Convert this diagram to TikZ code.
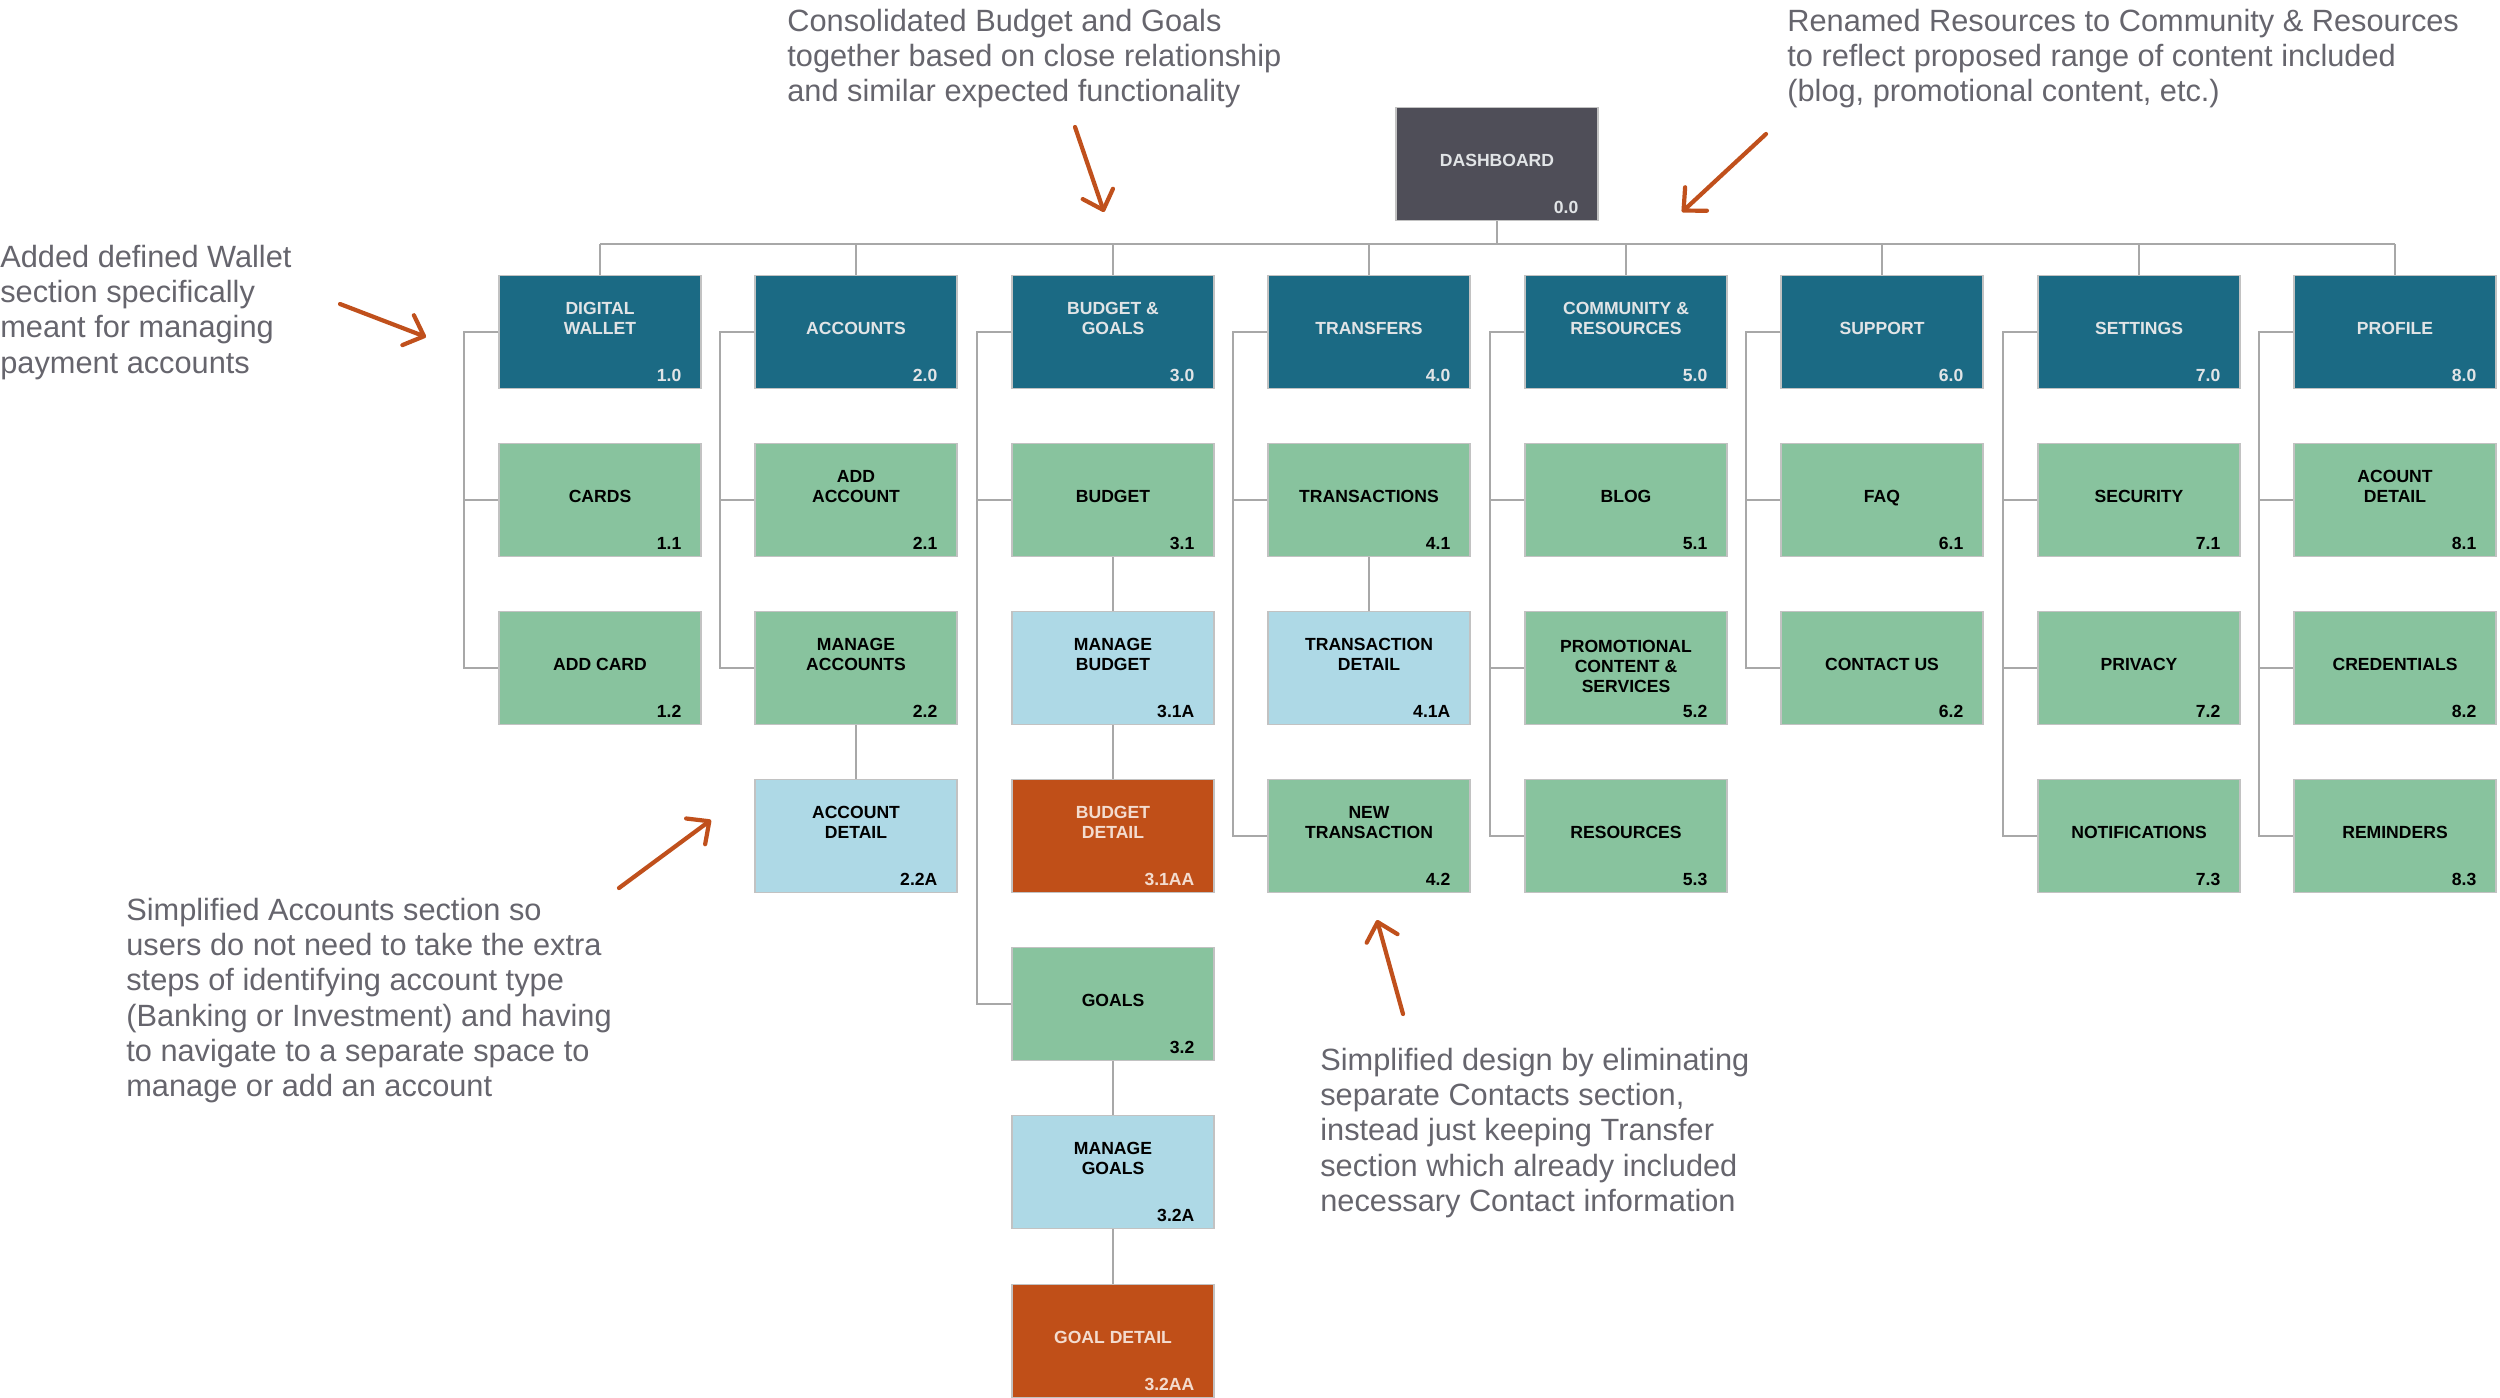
\documentclass[tikz,border=0pt]{standalone}
\usepackage{fontspec}
\setmainfont{Liberation Sans}
\usepackage{xcolor}
\usetikzlibrary{arrows.meta, calc}

\definecolor{sectionteal}{HTML}{1B6A84}
\definecolor{pagegreen}{HTML}{88C39E}
\definecolor{subblue}{HTML}{AED9E6}
\definecolor{detailorange}{HTML}{C04F18}
\definecolor{homegray}{HTML}{4F4E58}
\definecolor{lighttext}{HTML}{E1E4E6}
\definecolor{peachtext}{HTML}{F3DCCF}
\definecolor{linkgray}{HTML}{A8A8A8}
\definecolor{notegray}{HTML}{66656D}
\definecolor{noteorange}{HTML}{C0501C}

\begin{document}
\begin{tikzpicture}[x=0.02cm, y=-0.02cm,
  every node/.style={font=\bfseries\fontsize{10}{11.4}\selectfont},
  card/.style={draw=black!24, line width=0.8pt, align=center, inner sep=0pt, minimum width=4.04cm, minimum height=2.26cm, text height=0.6cm, text depth=0.5cm},
  home/.style={card, fill=homegray, text=lighttext},
  section/.style={card, fill=sectionteal, text=lighttext},
  page/.style={card, fill=pagegreen, text=black},
  sub/.style={card, fill=subblue, text=black},
  detail/.style={card, fill=detailorange, text=peachtext},
  numbase/.style={anchor=base east, xshift=-0.4cm, yshift=0.16cm, inner sep=0pt},
  dnum/.style={label={[numbase, text=black]south east:#1}},
  lnum/.style={label={[numbase, text=lighttext]south east:#1}},
  pnum/.style={label={[numbase, text=peachtext]south east:#1}},
  link/.style={draw=linkgray, line width=1pt},
  note/.style={anchor=north west, align=left, inner sep=0pt, text=notegray, font=\fontsize{17.5}{20}\selectfont},
  pointer/.style={draw=noteorange, line width=2.4pt, line cap=round, -{Straight Barb[length=3.4mm, width=6.4mm, round]}}]

  \useasboundingbox (0,0) rectangle (2500,1398);

  % top of the tree
  \node[home, lnum=0.0] (b00) at (1497,164) {DASHBOARD};
  \coordinate (bus) at (0,244);

  % sections
  \node[section, lnum=1.0] (b10) at (600,332) {DIGITAL\\WALLET};
  \node[section, lnum=2.0] (b20) at (856,332) {ACCOUNTS};
  \node[section, lnum=3.0] (b30) at (1113,332) {BUDGET \&\\GOALS};
  \node[section, lnum=4.0] (b40) at (1369,332) {TRANSFERS};
  \node[section, lnum=5.0] (b50) at (1626,332) {COMMUNITY \&\\RESOURCES};
  \node[section, lnum=6.0] (b60) at (1882,332) {SUPPORT};
  \node[section, lnum=7.0] (b70) at (2139,332) {SETTINGS};
  \node[section, lnum=8.0] (b80) at (2395,332) {PROFILE};

  % pages
  \node[page, dnum=1.1] (b11) at (600,500) {CARDS};
  \node[page, dnum=1.2] (b12) at (600,668) {ADD CARD};
  \node[page, dnum=2.1] (b21) at (856,500) {ADD\\ACCOUNT};
  \node[page, dnum=2.2] (b22) at (856,668) {MANAGE\\ACCOUNTS};
  \node[sub, dnum=2.2A] (b22a) at (856,836) {ACCOUNT\\DETAIL};
  \node[page, dnum=3.1] (b31) at (1113,500) {BUDGET};
  \node[sub, dnum=3.1A] (b31a) at (1113,668) {MANAGE\\BUDGET};
  \node[detail, pnum=3.1AA] (b31aa) at (1113,836) {BUDGET\\DETAIL};
  \node[page, dnum=3.2] (b32) at (1113,1004) {GOALS};
  \node[sub, dnum=3.2A] (b32a) at (1113,1172) {MANAGE\\GOALS};
  \node[detail, pnum=3.2AA] (b32aa) at (1113,1341) {GOAL DETAIL};
  \node[page, dnum=4.1] (b41) at (1369,500) {TRANSACTIONS};
  \node[sub, dnum=4.1A] (b41a) at (1369,668) {TRANSACTION\\DETAIL};
  \node[page, dnum=4.2] (b42) at (1369,836) {NEW\\TRANSACTION};
  \node[page, dnum=5.1] (b51) at (1626,500) {BLOG};
  \node[page, dnum=5.2, text height=1.5cm, text depth=0.52cm] (b52) at (1626,668) {PROMOTIONAL\\CONTENT \&\\SERVICES};
  \node[page, dnum=5.3] (b53) at (1626,836) {RESOURCES};
  \node[page, dnum=6.1] (b61) at (1882,500) {FAQ};
  \node[page, dnum=6.2] (b62) at (1882,668) {CONTACT US};
  \node[page, dnum=7.1] (b71) at (2139,500) {SECURITY};
  \node[page, dnum=7.2] (b72) at (2139,668) {PRIVACY};
  \node[page, dnum=7.3] (b73) at (2139,836) {NOTIFICATIONS};
  \node[page, dnum=8.1] (b81) at (2395,500) {ACOUNT\\DETAIL};
  \node[page, dnum=8.2] (b82) at (2395,668) {CREDENTIALS};
  \node[page, dnum=8.3] (b83) at (2395,836) {REMINDERS};

  % connectors
  \draw[link] (b00.south) -- (b00.south |- bus);
  \draw[link] (b10.north |- bus) -- (b80.north |- bus);
  \foreach \s in {10,20,...,80}
    \draw[link] (b\s.north) -- (b\s.north |- bus);
  \foreach \s/\p in {10/11, 10/12, 20/21, 20/22, 30/31, 30/32, 40/41, 40/42,
                     50/51, 50/52, 50/53, 60/61, 60/62, 70/71, 70/72, 70/73, 80/81, 80/82, 80/83}
    \draw[link] (b\s.west) -- ++(-34,0) |- (b\p.west);
  \draw[link] (b22) -- (b22a);
  \draw[link] (b31) -- (b31a);
  \draw[link] (b31a) -- (b31aa);
  \draw[link] (b32) -- (b32a);
  \draw[link] (b32a) -- (b32aa);
  \draw[link] (b41) -- (b41a);

  % notes
  \node[note] (walletnote) at (0,245) {Added defined Wallet\\section specifically\\meant for managing\\payment accounts};
  \node[note] (budgetnote) at (787,9) {Consolidated Budget and Goals\\together based on close relationship\\and similar expected functionality};
  \node[note] (communitynote) at (1787,9) {Renamed Resources to Community \& Resources\\to reflect proposed range of content included\\(blog, promotional content, etc.)};
  \node[note] (accountsnote) at (126,898) {Simplified Accounts section so\\users do not need to take the extra\\steps of identifying account type\\(Banking or Investment) and having\\to navigate to a separate space to\\manage or add an account};
  \node[note] (transfernote) at (1320,1048) {Simplified design by eliminating\\separate Contacts section,\\instead just keeping Transfer\\section which already included\\necessary Contact information};

  \coordinate (walletfrom) at (340,304);  \coordinate (walletto) at (426,337);
  \coordinate (budgetfrom) at (1075,127); \coordinate (budgetto) at (1104,212);
  \coordinate (communityfrom) at (1766,134); \coordinate (communityto) at (1682,212);
  \coordinate (accountsfrom) at (619,888); \coordinate (accountsto) at (711,820);
  \coordinate (transferfrom) at (1403,1014); \coordinate (transferto) at (1377,920);
  \draw[pointer] (walletfrom) -- (walletto);
  \draw[pointer] (budgetfrom) -- (budgetto);
  \draw[pointer] (communityfrom) -- (communityto);
  \draw[pointer] (accountsfrom) -- (accountsto);
  \draw[pointer] (transferfrom) -- (transferto);
\end{tikzpicture}
\end{document}
